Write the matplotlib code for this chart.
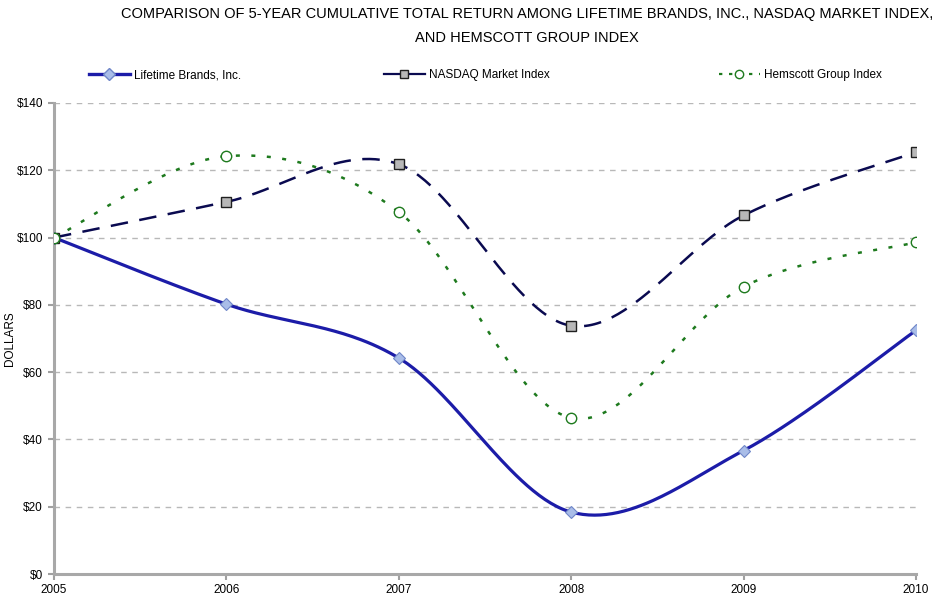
import numpy as np
import matplotlib
matplotlib.use("Agg")
import matplotlib.pyplot as plt
from matplotlib.lines import Line2D
from matplotlib.path import Path

plt.rcParams['font.family'] = ['Liberation Sans', 'DejaVu Sans']

years = [2005, 2006, 2007, 2008, 2009, 2010]
lifetime = [100.0, 80.2, 64.2, 18.4, 36.7, 72.4]
nasdaq = [100.0, 110.6, 121.8, 73.8, 106.6, 125.4]
hemscott = [100.0, 124.2, 107.6, 46.4, 85.4, 98.6]
series_names = ["Lifetime Brands, Inc.", "NASDAQ Market Index", "Hemscott Group Index"]
y_ticks = [0, 20, 40, 60, 80, 100, 120, 140]
title = ("COMPARISON OF 5-YEAR CUMULATIVE TOTAL RETURN AMONG LIFETIME BRANDS, INC., NASDAQ MARKET INDEX,\n"
         "AND HEMSCOTT GROUP INDEX")


def smooth_path(xs, ys):
    """Excel-style smoothed curve (cubic Bezier, Catmull-Rom control points)."""
    pts = np.column_stack([xs, ys]).astype(float)
    n = len(pts)
    verts = [pts[0]]
    for i in range(n - 1):
        p0 = pts[i - 1] if i > 0 else pts[i]
        p1 = pts[i]
        p2 = pts[i + 1]
        p3 = pts[i + 2] if i + 2 < n else pts[i + 1]
        c1 = p1 + (p2 - p0) / 6.0
        c2 = p2 - (p3 - p1) / 6.0
        verts += [c1, c2, p2]
    return np.array(verts)


def bezier_points(v, steps=60):
    out = [v[0]]
    for i in range(1, len(v), 3):
        p0, c1, c2, p3 = v[i - 1], v[i], v[i + 1], v[i + 2]
        t = np.linspace(0, 1, steps)[1:, None]
        b = ((1 - t) ** 3) * p0 + 3 * ((1 - t) ** 2) * t * c1 + 3 * (1 - t) * t ** 2 * c2 + t ** 3 * p3
        out.extend(b)
    out = np.array(out)
    return out[:, 0], out[:, 1]


fig = plt.figure(figsize=(9.36, 6.04), dpi=100)
ax = fig.add_axes([54 / 936, 30 / 604, 862 / 936, 471 / 604])

blue = '#1c1ca8'
navy = '#0a0a50'
green = '#1e7a1e'

# Lifetime
sx, sy = bezier_points(smooth_path(years, lifetime))
ax.plot(sx, sy, color=blue, lw=2.3, solid_capstyle='round', zorder=4)
ax.plot(years, lifetime, ls='none', marker='D', ms=6, mfc='#a9bde8', mec='#6f86c8', mew=0.8, zorder=5)

# NASDAQ
sx, sy = bezier_points(smooth_path(years, nasdaq))
ax.plot(sx, sy, color=navy, lw=1.8, dashes=(7.0, 4.6), zorder=3)
ax.plot(years, nasdaq, ls='none', marker='s', ms=7, mfc='#b8b8b8', mec='#202020', mew=1.0, zorder=5)

# Hemscott
sx, sy = bezier_points(smooth_path(years, hemscott))
ax.plot(sx, sy, color=green, lw=1.8, dashes=(1.6, 4.6), zorder=3)
ax.plot(years, hemscott, ls='none', marker='o', ms=7.5, mfc='white', mec=green, mew=1.0, zorder=5)

ax.set_xlim(2005, 2010)
ax.set_ylim(0, 140)
ax.set_xticks(years)
ax.set_xticklabels([str(y) for y in years], fontsize=8.5)
ax.set_yticks(y_ticks)
ax.set_yticklabels(['$%d' % v for v in y_ticks], fontsize=8.5)
ax.tick_params(axis='both', colors='#a0a0a0', labelcolor='black', length=4, width=1.5)
ax.tick_params(axis='x', pad=3)
ax.tick_params(axis='y', pad=4)

for s in ['top', 'right']:
    ax.spines[s].set_visible(False)
for s in ['left', 'bottom']:
    ax.spines[s].set_color('#a8a8a8')
    ax.spines[s].set_linewidth(2.2)

ax.yaxis.grid(True, color='#b8b8b8', lw=1.0, dashes=(4, 4))
ax.set_axisbelow(True)
ax.set_ylabel('DOLLARS', fontsize=8.5)
ax.yaxis.set_label_coords(-38 / 862, 0.5)

fig.text(527 / 936, 1 - 26 / 604, title, ha='center', va='center', fontsize=10.5, linespacing=1.9)

handles = [
    Line2D([], [], color=blue, lw=2.4, marker='D', ms=6, mfc='#a9bde8', mec='#6f86c8'),
    Line2D([], [], color=navy, lw=1.6, marker='s', ms=6, mfc='#b8b8b8', mec='#202020'),
    Line2D([], [], color=green, lw=1.6, dashes=(1.5, 3), marker='o', ms=6, mfc='white', mec=green),
]
legend_x = [90, 385, 720]
for h, name, lx in zip(handles, series_names, legend_x):
    fig.legend([h], [name], loc='center left', bbox_to_anchor=(lx / 936 - 0.012, 1 - 75 / 604),
               frameon=False, fontsize=8.5, handlelength=3.4, handletextpad=0.4)

fig.savefig('out.png', dpi=100)
